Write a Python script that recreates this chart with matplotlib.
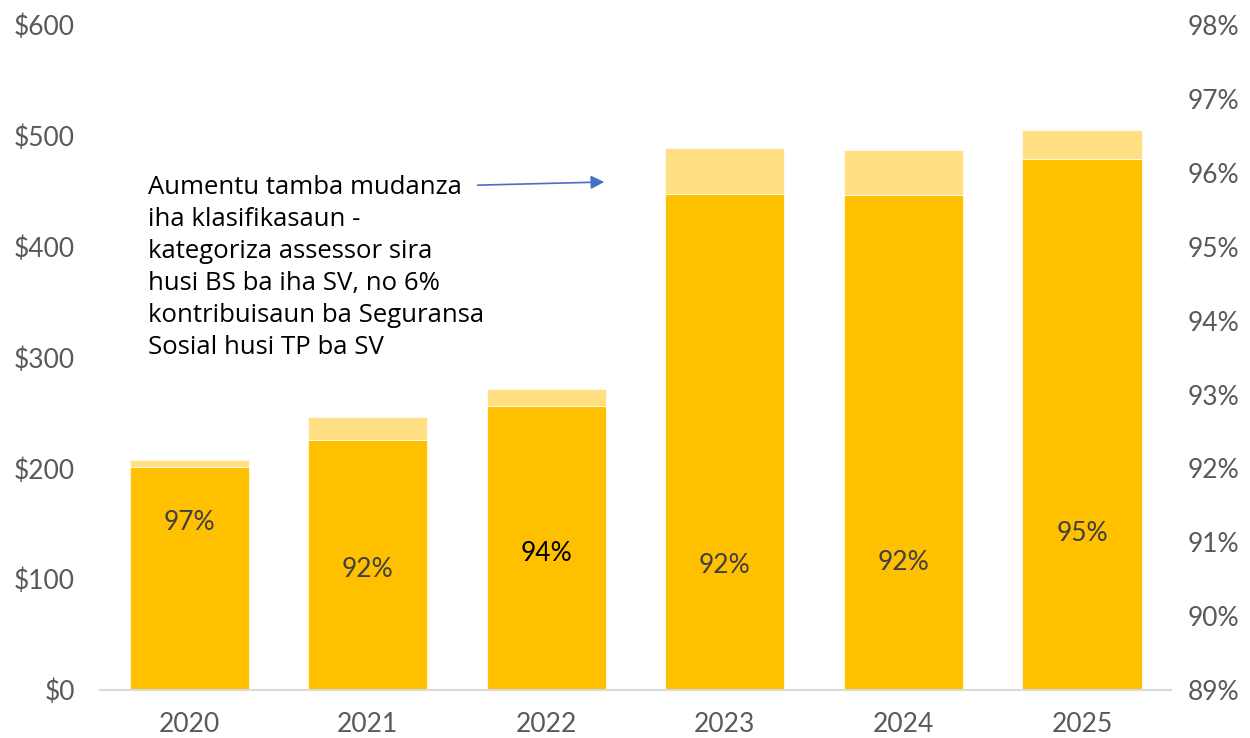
import matplotlib
matplotlib.use("Agg")
import matplotlib.pyplot as plt
from matplotlib.ticker import FuncFormatter

years = ["2020", "2021", "2022", "2023", "2024", "2025"]
base_values = [201, 226, 256, 448, 447, 479]
top_values = [7, 20, 16, 41, 40, 26]
pct_labels = ["97%", "92%", "94%", "92%", "92%", "95%"]
pct_label_y = [151, 109, 123, 112, 115, 141]
pct_colors = ["#404040", "#404040", "#000000", "#404040", "#404040", "#404040"]
left_ticks = [0, 100, 200, 300, 400, 500, 600]
right_ticks = [89, 90, 91, 92, 93, 94, 95, 96, 97, 98]
note = ("Aumentu tamba mudanza\niha klasifikasaun -\nkategoriza assessor sira\n"
        "husi BS ba iha SV, no 6%\nkontribuisaun ba Seguransa\nSosial husi TP ba SV")

plt.rcParams['font.family'] = ['Lato', 'DejaVu Sans']
fig = plt.figure(figsize=(12.5, 7.38), dpi=100)
ax = fig.add_axes([0.08, 0.065, 0.857, 0.901])
x = list(range(len(years)))
ax.bar(x, base_values, width=0.667, color="#FFC000", edgecolor="white", linewidth=0.5)
ax.bar(x, top_values, bottom=base_values, width=0.667, color="#FFDF82",
       edgecolor="white", linewidth=0.5)
ax.set_xlim(-0.5, 5.5)
ax.set_ylim(0, 600)
ax.set_yticks(left_ticks)
ax.yaxis.set_major_formatter(FuncFormatter(lambda v, p: f"${int(v)}"))
ax.set_xticks(x)
ax.set_xticklabels(years)
for s in ["top", "right", "left"]:
    ax.spines[s].set_visible(False)
ax.spines["bottom"].set_color("#D9D9D9")
ax.spines["bottom"].set_linewidth(1.5)
ax.tick_params(axis="y", length=0, pad=18, labelsize=19, labelcolor="#595959")
ax.tick_params(axis="x", length=0, pad=16, labelsize=19, labelcolor="#595959")

ax2 = ax.twinx()
ax2.set_ylim(89, 98)
ax2.set_yticks(right_ticks)
ax2.yaxis.set_major_formatter(FuncFormatter(lambda v, p: f"{int(v)}%"))
for s in ["top", "right", "left", "bottom"]:
    ax2.spines[s].set_visible(False)
ax2.tick_params(axis="y", length=0, pad=12, labelsize=19, labelcolor="#595959")

for xi, lab, yv, c in zip(x, pct_labels, pct_label_y, pct_colors):
    ax.text(xi, yv, lab, ha="center", va="center", fontsize=19, color=c)

ax.text(-0.232, 465, note, ha="left", va="top", fontsize=18.5, color="black",
        family=["Open Sans", "DejaVu Sans"], linespacing=1.37)
ax.annotate("", xy=(2.34, 458.5), xytext=(1.6, 455.5),
            arrowprops=dict(arrowstyle="-|>", color="#4472C4", lw=1.2,
                            mutation_scale=20))

fig.savefig("out.png", dpi=100)
